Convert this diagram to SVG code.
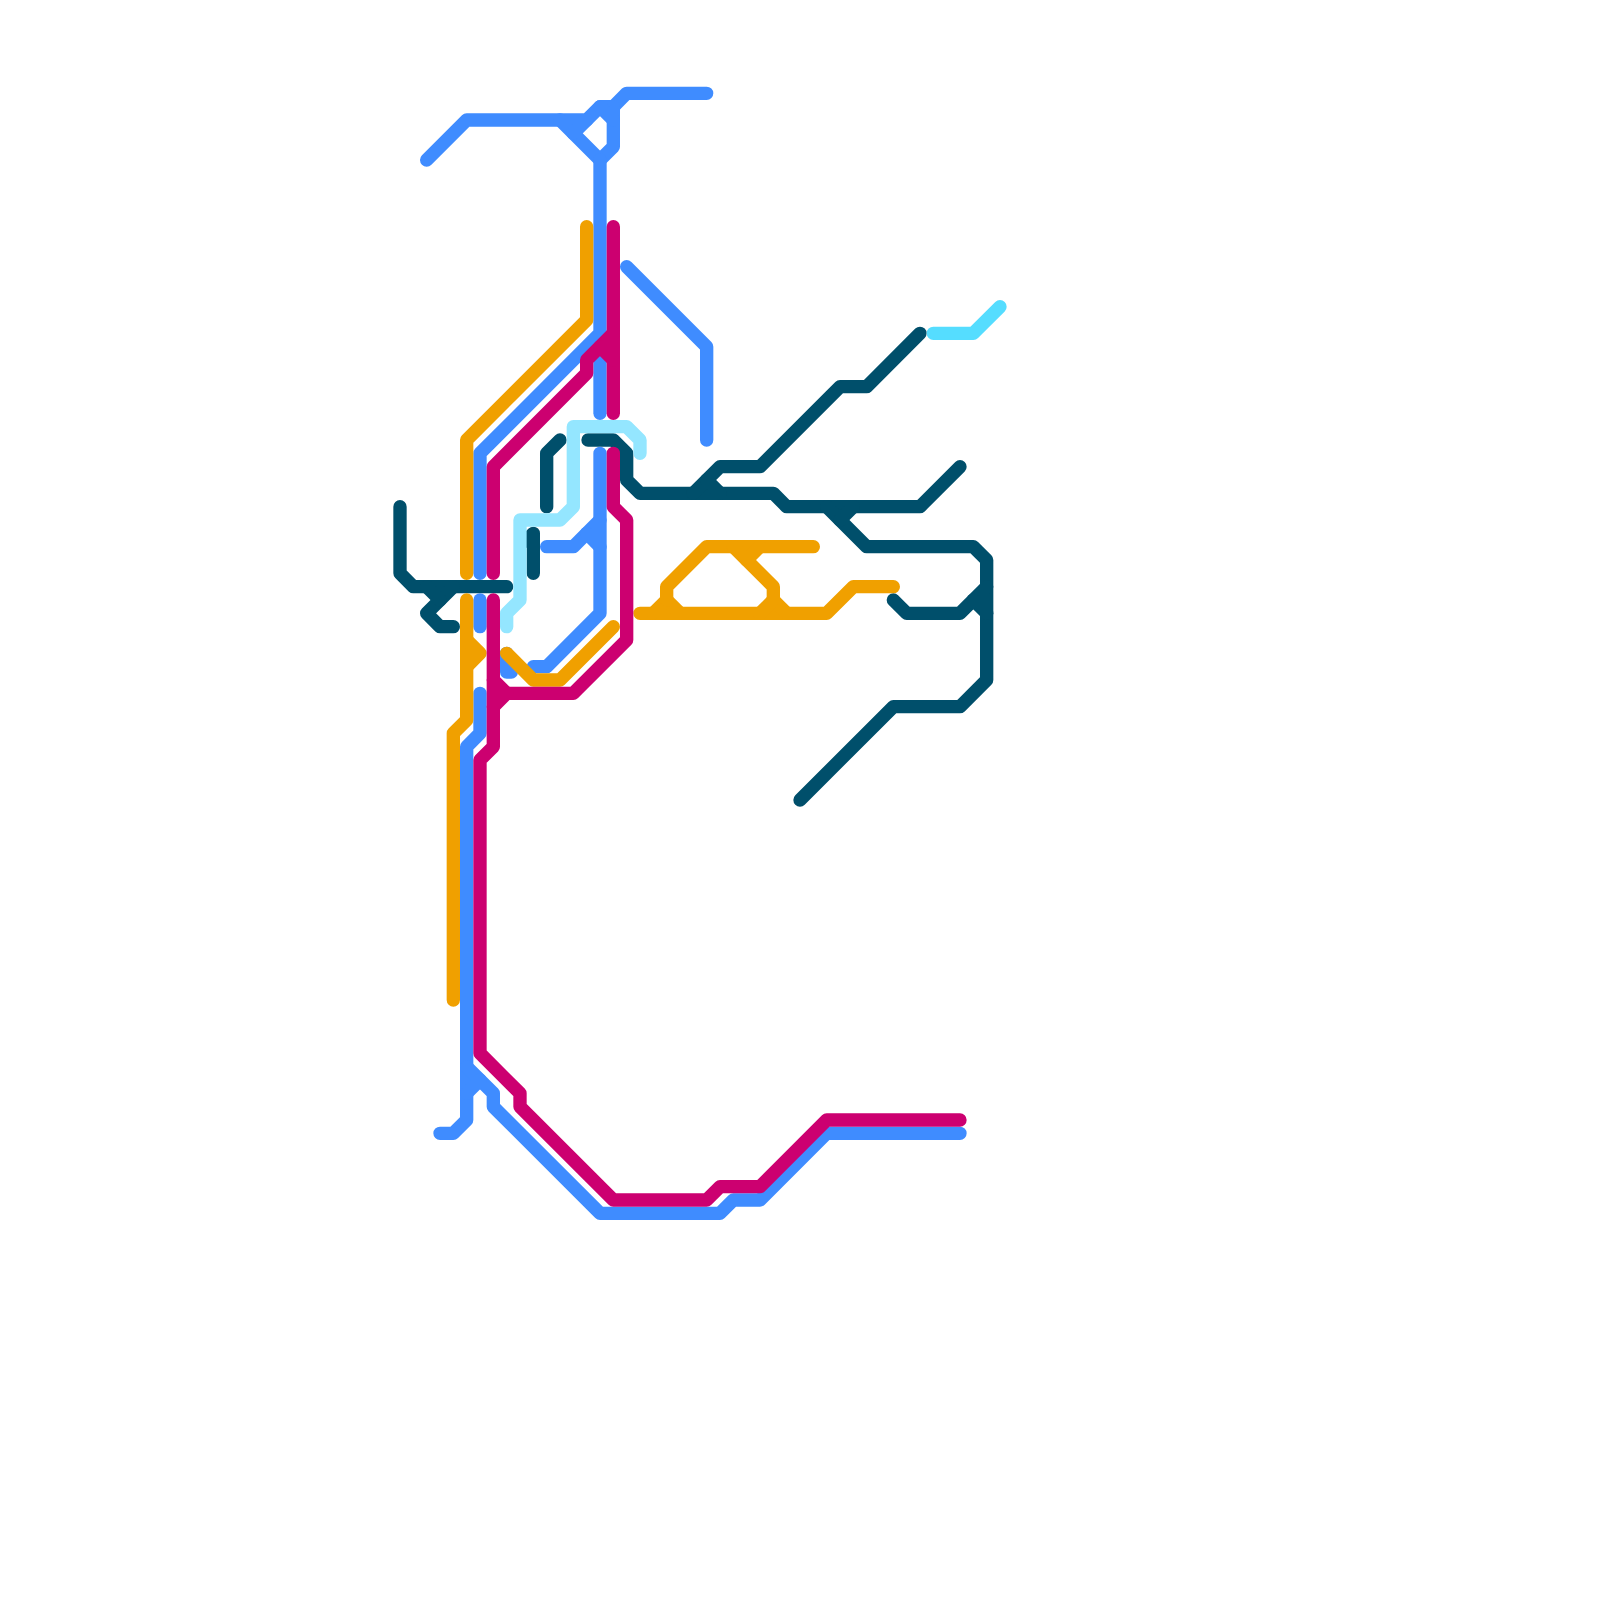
<svg xmlns="http://www.w3.org/2000/svg" width="1600" height="1600" viewBox="0 0 1600 1600">
<style>
path{fill:none;stroke-width:1;stroke-linecap:round;stroke-linejoin:round}
.dark path{stroke:#004F6B}
.blue path{stroke:#3F8CFF}
.light path{stroke:#94E6FF}
.cyan path{stroke:#55DDFF}
.orange path{stroke:#F0A000}
.magenta path{stroke:#CC0070}
</style>
<rect width="1600" height="1600" fill="#FFFFFF"/>
<g id="connectors" transform="scale(13.33333)">
<g id="line-dark" class="dark">
<path d="M30 38V43L31 44H38"/>
<path d="M34 44L32 46L33 47H34"/>
<path d="M32 44L33 45"/>
<path d="M41 38V34L42 33"/>
<path d="M40 43V40L39.4 40.6"/>
<path d="M44.1 33H46L47 34V36L48 37H58L59 38H69L72 35"/>
<path d="M52 37L54 35H57L63 29H65L69 25"/>
<path d="M53 36L54 37"/>
<path d="M62 38L65 41H73L74 42V51L72 53H67L60 60"/>
<path d="M64 38L63 39"/>
<path d="M67 45L68 46H72L74 44"/>
<path d="M73 45L74 46"/>
</g>
<g id="line-blue" class="blue">
<path d="M32 12L35 9H44L45 8H46L47 7H53"/>
<path d="M42 9L45 12L46 11V8"/>
<path d="M45 8L46 9"/>
<path d="M43 10L44 9"/>
<path d="M45 12V25L36 34V43"/>
<path d="M45 26V31"/>
<path d="M47 20L53 26V33"/>
<path d="M45 34V46L41 50H40"/>
<path d="M41 41H43L45 39"/>
<path d="M44 40L45 41"/>
<path d="M36 45V47"/>
<path d="M38 49V50.4H38.35"/>
<path d="M36 52V55L35 56V84L34 85H33"/>
<path d="M35 80L37 82V83L45 91H54L55 90H57L62 85H72"/>
<path d="M35 82L36 81"/>
</g>
<g id="line-light" class="light">
<path d="M38 47V46L39 45V39H42L43 38V32H47L48 33V34"/>
</g>
<g id="line-cyan" class="cyan">
<path d="M70 25H73L75 23"/>
</g>
<g id="line-orange" class="orange">
<path d="M44 17V24L35 33V43"/>
<path d="M35 45V54L34 55V75"/>
<path d="M35 48L36 49L35 50"/>
<path d="M38 49L40 51H42L46 47"/>
<path d="M48 46H62L64 44H67"/>
<path d="M49 46L50 45L51 46"/>
<path d="M50 45V44L53 41H61"/>
<path d="M55 41L58 44V45L59 46"/>
<path d="M58 45L57 46"/>
<path d="M57 41L56 42"/>
</g>
<g id="line-magenta" class="magenta">
<path d="M46 17V31"/>
<path d="M46 25L44 27V28L37 35V43"/>
<path d="M45 26L46 27"/>
<path d="M46 34V38L47 39V48L43 52H38"/>
<path d="M37 51L38 52L37 53"/>
<path d="M37 45V56L36 57V79L39 82V83L46 90H53L54 89H57L62 84H72"/>
</g>
</g>
</svg>
